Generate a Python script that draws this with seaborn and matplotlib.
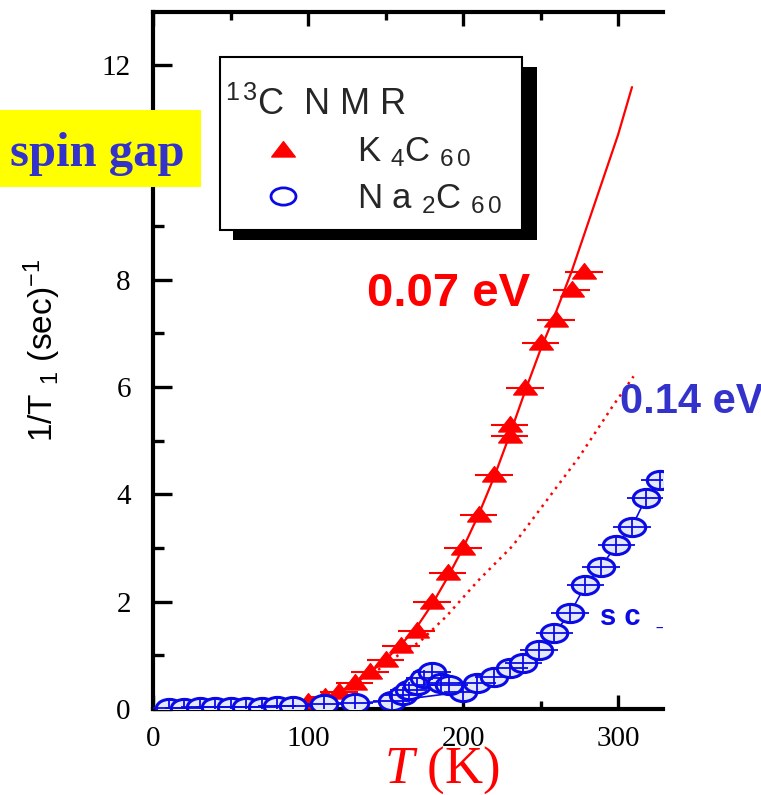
import matplotlib
matplotlib.use("Agg")
import matplotlib.pyplot as plt
import seaborn as sns
import numpy as np
from matplotlib.path import Path
from matplotlib.transforms import Affine2D, IdentityTransform
from matplotlib.patches import Rectangle
from matplotlib.lines import Line2D
from matplotlib.ticker import MultipleLocator

# ---------------- data ----------------
k4_T = [100, 111, 120, 130, 140, 150, 160, 170, 180, 190, 200, 210, 220, 230, 230,
        240, 250, 260, 270, 278]
k4_rate = [0.13, 0.22, 0.32, 0.48, 0.69, 0.91, 1.17, 1.45, 1.99, 2.54, 3.00, 3.61,
           4.36, 5.30, 5.08, 5.98, 6.82, 7.25, 7.81, 8.14]

fit07_T = [97, 110, 120, 130, 140, 150, 160, 170, 180, 190, 200, 210, 220, 230, 240,
           250, 260, 270, 280, 290, 300, 309]
fit07_rate = [0.08, 0.20, 0.32, 0.47, 0.68, 0.92, 1.20, 1.52, 1.95, 2.45, 3.00, 3.62,
              4.32, 5.10, 5.92, 6.70, 7.40, 8.15, 9.00, 9.85, 10.70, 11.59]

fit014_T = [20, 60, 100, 120, 140, 160, 172, 189, 210, 232, 253, 275, 296, 310]
fit014_rate = [0.00, 0.01, 0.10, 0.30, 0.62, 1.04, 1.25, 1.72, 2.40, 3.04, 3.85, 4.70,
               5.62, 6.20]

na2_T = [10, 20, 30, 40, 50, 60, 70, 80, 90, 110, 130, 154, 200, 209, 220, 230, 239,
         249, 259, 269, 279, 289, 299, 309, 318, 327]
na2_rate = [0.02, 0.02, 0.03, 0.03, 0.03, 0.04, 0.04, 0.05, 0.06, 0.09, 0.11, 0.15,
            0.32, 0.48, 0.60, 0.77, 0.86, 1.10, 1.42, 1.78, 2.31, 2.65, 3.06, 3.40,
            3.93, 4.27]
na2sc_T = [161, 165, 170, 175, 180, 186, 191]
na2sc_rate = [0.26, 0.35, 0.45, 0.57, 0.69, 0.48, 0.45]

T_err = 12
na2_rate_err = 0.15

x_ticks = [0, 100, 200, 300]
y_ticks = [0, 2, 4, 6, 8, 10, 12]

legend_title = "$^{1\\,3}$C  N M R"
label_k4 = "K $_4$C $_{6\\,0}$"
label_na2 = "N a $_2$C $_{6\\,0}$"

# ---------------- style ----------------
sns.set_theme(style="ticks")
plt.rcParams["font.family"] = ["Liberation Sans", "DejaVu Sans"]
plt.rcParams["mathtext.fontset"] = "custom"
plt.rcParams["mathtext.it"] = "Liberation Serif:italic"
plt.rcParams["mathtext.rm"] = "Liberation Serif"
plt.rcParams["mathtext.default"] = "regular"

RED = "#ff0000"
BLUE = "#0a0ae6"
SLATE = "#3333cc"

ell = Path.unit_circle().transformed(Affine2D().scale(1.45, 1.0))
tri = Path([(-1, -0.55), (1, -0.55), (0, 0.75), (-1, -0.55)],
           [Path.MOVETO, Path.LINETO, Path.LINETO, Path.CLOSEPOLY])

W, H = 761, 795
fig = plt.figure(figsize=(W / 100, H / 100), dpi=100)
fig.patch.set_facecolor("white")
ax = fig.add_axes([153 / W, 86 / H, 510 / W, 697 / H])
ax.set_facecolor("none")

# fit lines
sns.lineplot(x=fit014_T, y=fit014_rate, ax=ax, color=RED, lw=1.8, linestyle=(0, (1, 2.0)),
             estimator=None, sort=False, zorder=2)
sns.lineplot(x=fit07_T, y=fit07_rate, ax=ax, color=RED, lw=1.6,
             estimator=None, sort=False, zorder=2)

# K4C60
ax.errorbar(k4_T, k4_rate, xerr=T_err, fmt="none", ecolor=RED, elinewidth=1.5,
            capsize=0, zorder=3)
ax.plot(k4_T, k4_rate, ls="none", marker=tri, ms=17, color=RED, mec=RED, zorder=4)

# Na2C60
sns.lineplot(x=na2_T, y=na2_rate, ax=ax, color=BLUE, lw=1.2,
             estimator=None, sort=False, zorder=5)
sns.lineplot(x=na2sc_T, y=na2sc_rate, ax=ax, color=BLUE, lw=1.2,
             estimator=None, sort=False, zorder=5)
all_T = na2_T + na2sc_T
all_r = na2_rate + na2sc_rate
ax.plot(all_T, all_r, ls="none", marker=ell, ms=19, mfc="#e4e8fb", mec=BLUE,
        mew=2.2, zorder=5.5)
ax.errorbar(all_T, all_r, xerr=T_err, yerr=na2_rate_err, fmt="none", ecolor=BLUE,
            elinewidth=1.3, capsize=0, zorder=6)

if ax.get_legend() is not None:
    ax.get_legend().remove()

# axes
ax.set_xlim(0, 329)
ax.set_ylim(0, 12.99)
ax.set_xticks(x_ticks)
ax.set_yticks(y_ticks)
ax.xaxis.set_minor_locator(MultipleLocator(50))
ax.yaxis.set_minor_locator(MultipleLocator(1))
for s in ["left", "bottom", "top"]:
    ax.spines[s].set_linewidth(3.0)
    ax.spines[s].set_color("black")
ax.spines["right"].set_visible(False)
ax.tick_params(axis="both", which="both", direction="in", top=True, right=False,
               color="black", width=2.4)
ax.tick_params(axis="x", which="major", length=10, pad=12)
ax.tick_params(axis="x", which="minor", length=6)
ax.tick_params(axis="y", which="major", length=14, pad=16)
ax.tick_params(axis="y", which="minor", length=8)
for lab in ax.get_xticklabels() + ax.get_yticklabels():
    lab.set_fontfamily("Liberation Serif")
    lab.set_fontsize(21)
    lab.set_color("black")

ax.set_ylabel("1/T $_1$ (sec)$^{-1}$", fontsize=24, family="Liberation Sans",
              color="black")
ax.yaxis.set_label_coords(-0.176, 0.514)
ax.set_xlabel("$\\mathit{T}$ (K)", fontsize=38, family="Liberation Serif", color=RED)
ax.xaxis.set_label_coords(0.567, -0.051)

# annotations
ax.text(138, 7.51, "0.07 eV", color=RED, fontsize=34, fontweight="bold",
        family="Liberation Sans", ha="left", va="baseline", zorder=7)
ax.text(301.3, 5.52, "0.14 eV", color=SLATE, fontsize=30, fontweight="bold",
        family="Liberation Sans", ha="left", va="baseline", clip_on=False, zorder=7)
ax.text(288.4, 1.57, "s c  _", color=BLUE, fontsize=21, fontweight="bold",
        family="Liberation Sans", ha="left", va="baseline", clip_on=True, zorder=7)

# legend (frame drawn separately with a hard black shadow)
h_k = Line2D([], [], ls="none", marker=tri, ms=17, color=RED, mec=RED)
h_n = Line2D([], [], ls="none", marker=ell, ms=18, mfc="white", mec=BLUE, mew=2.0)
FS = 25
px = FS * 100 / 72
leg = ax.legend(handles=[h_k, h_n], labels=[label_k4, label_na2], title=legend_title,
                loc="upper left",
                bbox_to_anchor=(225 / W, 1 - 87 / H),
                bbox_transform=fig.transFigure, borderaxespad=0, borderpad=0,
                frameon=False,
                prop={"family": "Liberation Sans", "size": FS},
                title_fontproperties={"family": "Liberation Sans", "size": 26},
                handlelength=116 / px, handletextpad=16 / px,
                labelspacing=0.36, alignment="left", numpoints=1)
leg.set_zorder(10)

frame = Rectangle((220, H - 230), 302, 173, transform=IdentityTransform(),
                  facecolor="white", edgecolor="black", linewidth=1.5,
                  zorder=9.95, clip_on=False)
shadow = Rectangle((233, H - 240), 304, 173, transform=IdentityTransform(),
                   facecolor="black", edgecolor="none", zorder=9.9, clip_on=False)
ax.add_artist(shadow)
ax.add_artist(frame)

# yellow "spin gap" box
fig.add_artist(Rectangle((0, 1 - 187 / H), 201 / W, 77 / H, transform=fig.transFigure,
                         facecolor="#ffff00", edgecolor="none", zorder=3))
fig.text(10 / W, 1 - 166 / H, "spin gap", color=SLATE, fontsize=35, fontweight="bold",
         family="Liberation Serif", ha="left", va="baseline", zorder=4)

fig.savefig("out.png", dpi=100)
